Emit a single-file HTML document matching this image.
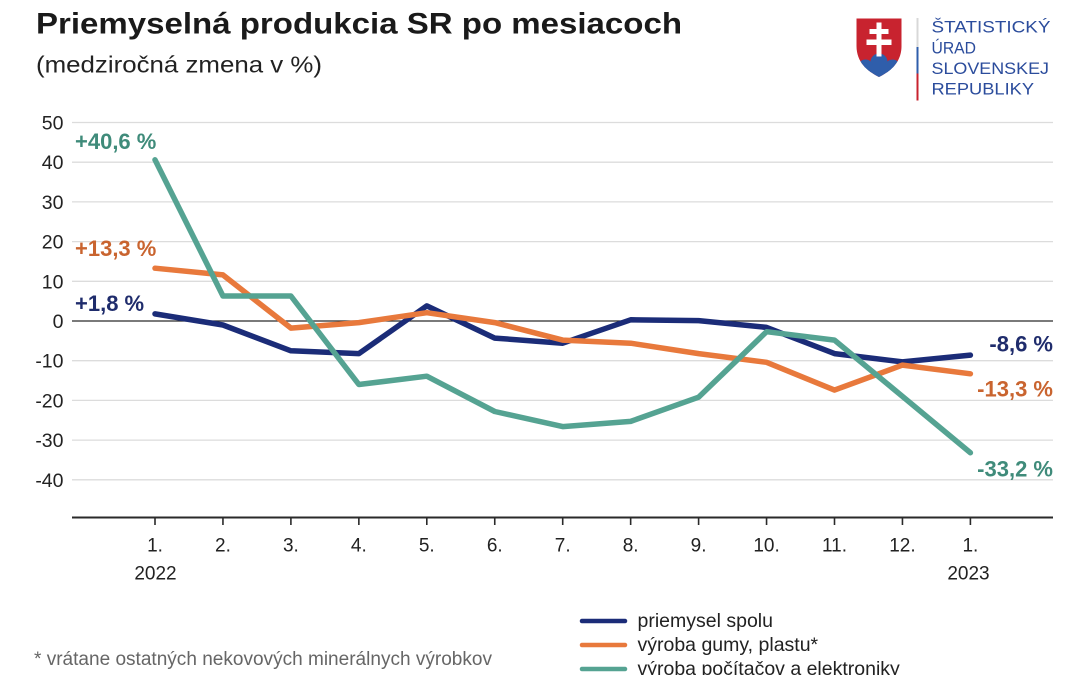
<!DOCTYPE html>
<html>
<head>
<meta charset="utf-8">
<style>
  html, body { margin:0; padding:0; background:#ffffff; }
  svg { display:block; }
  text { font-family: "Liberation Sans", Arial, sans-serif; }
</style>
</head>
<body>
<svg width="1080" height="675" viewBox="0 0 1080 675" xmlns="http://www.w3.org/2000/svg">
  <rect x="0" y="0" width="1080" height="675" fill="#ffffff"/>

  <!-- Title -->
  <text x="36" y="33.5" font-size="29.5" font-weight="bold" fill="#1a1a1a" textLength="646" lengthAdjust="spacingAndGlyphs">Priemyselná produkcia SR po mesiacoch</text>
  <text x="36" y="72.5" font-size="23" fill="#222222" textLength="286" lengthAdjust="spacingAndGlyphs">(medziročná zmena v %)</text>

  <!-- Logo -->
  <defs>
    <clipPath id="shield">
      <path d="M856.5,18.5 H901.5 V46 C901.5,62 891,71 879,77 C867,71 856.5,62 856.5,46 Z"/>
    </clipPath>
  </defs>
  <path d="M856.5,18.5 H901.5 V46 C901.5,62 891,71 879,77 C867,71 856.5,62 856.5,46 Z" fill="#c8232f"/>
  <g clip-path="url(#shield)" fill="#2f5eab">
    <circle cx="879" cy="62" r="8.5"/>
    <circle cx="865.5" cy="67" r="7.5"/>
    <circle cx="892.5" cy="67" r="7.5"/>
    <rect x="850" y="66" width="60" height="15"/>
  </g>
  <g fill="#ffffff">
    <rect x="876.5" y="22.5" width="5" height="34"/>
    <rect x="869.5" y="29" width="19" height="5"/>
    <rect x="866.5" y="39.5" width="25" height="5.5"/>
  </g>
  <rect x="916.5" y="18" width="2" height="29" fill="#d8d8d8"/>
  <rect x="916.5" y="47" width="2" height="26.5" fill="#2f5eab"/>
  <rect x="916.5" y="73.5" width="2" height="27" fill="#c8232f"/>
  <g fill="#2b4c9c" font-size="16.5">
    <text x="931.5" y="32.5" textLength="119" lengthAdjust="spacingAndGlyphs">ŠTATISTICKÝ</text>
    <text x="931.5" y="53.5" textLength="44.5" lengthAdjust="spacingAndGlyphs">ÚRAD</text>
    <text x="931.5" y="74" textLength="117.5" lengthAdjust="spacingAndGlyphs">SLOVENSKEJ</text>
    <text x="931.5" y="94.5" textLength="102.5" lengthAdjust="spacingAndGlyphs">REPUBLIKY</text>
  </g>

  <!-- Gridlines -->
  <g stroke="#dcdcdc" stroke-width="1.3">
    <line x1="72" y1="122.5" x2="1053" y2="122.5"/>
    <line x1="72" y1="162.2" x2="1053" y2="162.2"/>
    <line x1="72" y1="201.9" x2="1053" y2="201.9"/>
    <line x1="72" y1="241.6" x2="1053" y2="241.6"/>
    <line x1="72" y1="281.3" x2="1053" y2="281.3"/>
    <line x1="72" y1="360.7" x2="1053" y2="360.7"/>
    <line x1="72" y1="400.4" x2="1053" y2="400.4"/>
    <line x1="72" y1="440.1" x2="1053" y2="440.1"/>
    <line x1="72" y1="479.8" x2="1053" y2="479.8"/>
  </g>
  <line x1="72" y1="321" x2="1053" y2="321" stroke="#2a2a2a" stroke-width="1.2"/>

  <!-- Y labels -->
  <g font-size="19.5" fill="#222222" text-anchor="end">
    <text x="63.5" y="129.5">50</text>
    <text x="63.5" y="169.2">40</text>
    <text x="63.5" y="208.9">30</text>
    <text x="63.5" y="248.6">20</text>
    <text x="63.5" y="288.3">10</text>
    <text x="63.5" y="328">0</text>
    <text x="63.5" y="367.7">-10</text>
    <text x="63.5" y="407.4">-20</text>
    <text x="63.5" y="447.1">-30</text>
    <text x="63.5" y="486.8">-40</text>
  </g>

  <!-- X axis -->
  <line x1="72" y1="517.5" x2="1053" y2="517.5" stroke="#2a2a2a" stroke-width="2"/>
  <g stroke="#2a2a2a" stroke-width="1.6">
    <line x1="155" y1="517" x2="155" y2="525"/>
    <line x1="222.95" y1="517" x2="222.95" y2="525"/>
    <line x1="290.9" y1="517" x2="290.9" y2="525"/>
    <line x1="358.85" y1="517" x2="358.85" y2="525"/>
    <line x1="426.8" y1="517" x2="426.8" y2="525"/>
    <line x1="494.75" y1="517" x2="494.75" y2="525"/>
    <line x1="562.7" y1="517" x2="562.7" y2="525"/>
    <line x1="630.65" y1="517" x2="630.65" y2="525"/>
    <line x1="698.6" y1="517" x2="698.6" y2="525"/>
    <line x1="766.55" y1="517" x2="766.55" y2="525"/>
    <line x1="834.5" y1="517" x2="834.5" y2="525"/>
    <line x1="902.45" y1="517" x2="902.45" y2="525"/>
    <line x1="970.4" y1="517" x2="970.4" y2="525"/>
  </g>
  <g font-size="19" fill="#222222" text-anchor="middle">
    <text x="155" y="551.5">1.</text>
    <text x="222.95" y="551.5">2.</text>
    <text x="290.9" y="551.5">3.</text>
    <text x="358.85" y="551.5">4.</text>
    <text x="426.8" y="551.5">5.</text>
    <text x="494.75" y="551.5">6.</text>
    <text x="562.7" y="551.5">7.</text>
    <text x="630.65" y="551.5">8.</text>
    <text x="698.6" y="551.5">9.</text>
    <text x="766.55" y="551.5">10.</text>
    <text x="834.5" y="551.5">11.</text>
    <text x="902.45" y="551.5">12.</text>
    <text x="970.4" y="551.5">1.</text>
    <text x="155.5" y="579.5">2022</text>
    <text x="968.5" y="579.5">2023</text>
  </g>

  <!-- Series -->
  <g fill="none" stroke-width="5.5" stroke-linejoin="round" stroke-linecap="round">
    <polyline stroke="#1b2c78" points="155,313.9 222.95,325 290.9,350.8 358.85,353.6 426.8,305.9 494.75,338.1 562.7,343.2 630.65,319.8 698.6,320.6 766.55,327.4 834.5,353.6 902.45,361.9 970.4,355.1"/>
    <polyline stroke="#e8793c" points="155,268.2 222.95,274.9 290.9,328.1 358.85,322.6 426.8,312.7 494.75,322.6 562.7,340.1 630.65,343.2 698.6,353.6 766.55,362.3 834.5,390.1 902.45,365.1 970.4,373.8"/>
    <polyline stroke="#55a392" points="155,159.8 222.95,296 290.9,296 358.85,384.5 426.8,376.2 494.75,411.5 562.7,426.6 630.65,421.4 698.6,397.2 766.55,331.7 834.5,340.1 902.45,396.4 970.4,452.8"/>
  </g>

  <!-- Data labels -->
  <g font-size="22" font-weight="bold">
    <text x="75" y="149" fill="#3f8b7a">+40,6 %</text>
    <text x="75" y="256" fill="#c9642f">+13,3 %</text>
    <text x="75" y="311" fill="#1f2c6c">+1,8 %</text>
    <text x="1053" y="351.5" fill="#1f2c6c" text-anchor="end">-8,6 %</text>
    <text x="1053" y="396.5" fill="#c9642f" text-anchor="end">-13,3 %</text>
    <text x="1053" y="476.5" fill="#3f8b7a" text-anchor="end">-33,2 %</text>
  </g>

  <!-- Footnote -->
  <text x="34" y="665" font-size="19" fill="#666666" textLength="458" lengthAdjust="spacingAndGlyphs">* vrátane ostatných nekovových minerálnych výrobkov</text>

  <!-- Legend -->
  <g stroke-width="4.5" stroke-linecap="round">
    <line x1="582" y1="621" x2="625" y2="621" stroke="#1b2c78"/>
    <line x1="582" y1="645" x2="625" y2="645" stroke="#e8793c"/>
    <line x1="582" y1="669" x2="625" y2="669" stroke="#55a392"/>
  </g>
  <g font-size="19.5" fill="#222222">
    <text x="637.5" y="627">priemysel spolu</text>
    <text x="637.5" y="651">výroba gumy, plastu*</text>
    <text x="637.5" y="675">výroba počítačov a elektroniky</text>
  </g>
</svg>
</body>
</html>
